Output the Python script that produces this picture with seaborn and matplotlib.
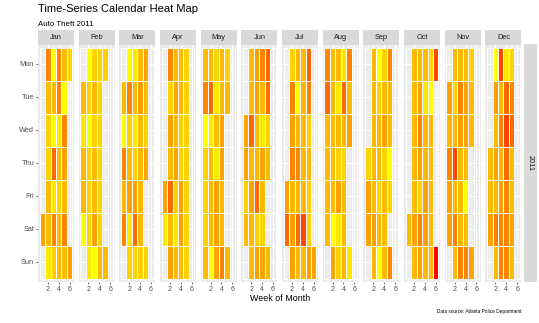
import numpy as np
import pandas as pd
import matplotlib
matplotlib.use("Agg")
import matplotlib.pyplot as plt
from matplotlib.colors import LinearSegmentedColormap
from matplotlib.patches import Rectangle
import seaborn as sns

# ---- data: daily auto theft counts, 2011 ----
year = 2011
month_names = ["Jan", "Feb", "Mar", "Apr", "May", "Jun",
               "Jul", "Aug", "Sep", "Oct", "Nov", "Dec"]
weekday_names = ["Mon", "Tue", "Wed", "Thu", "Fri", "Sat", "Sun"]
week_ticks = [2, 4, 6]

jan = [16, 10, 18, 14, 12, 12, 14, 14, 12, 8, 14, 8, 20, 10, 18, 14, 18, 18, 10, 14, 12, 14, 14, 14, 8, 18, 16, 14, 18, 16, 12]
feb = [14, 10, 14, 14, 8, 10, 8, 12, 8, 12, 12, 12, 8, 12, 14, 12, 14, 14, 16, 14, 12, 12, 12, 12, 12, 12, 14, 12]
mar = [14, 8, 18, 14, 18, 12, 8, 18, 12, 14, 16, 10, 12, 10, 14, 10, 12, 16, 20, 12, 14, 16, 14, 14, 14, 14, 12, 16, 14, 12, 16]
apr = [16, 10, 16, 18, 12, 16, 14, 20, 14, 14, 14, 16, 14, 16, 12, 10, 14, 14, 14, 12, 12, 16, 16, 12, 12, 12, 12, 12, 12, 12]
may = [14, 14, 18, 8, 12, 12, 12, 8, 14, 20, 10, 14, 14, 14, 16, 12, 10, 14, 10, 16, 16, 18, 14, 14, 16, 16, 14, 14, 14, 12, 14]
jun = [16, 16, 12, 14, 14, 14, 14, 20, 14, 16, 14, 16, 16, 16, 14, 14, 20, 12, 16, 18, 14, 10, 16, 14, 12, 14, 20, 20, 12, 14]
jul = [16, 20, 16, 12, 18, 16, 18, 14, 16, 14, 14, 8, 14, 18, 14, 20, 14, 14, 14, 14, 14, 14, 22, 16, 20, 18, 12, 14, 12, 12, 16]
aug = [18, 20, 14, 14, 14, 14, 16, 14, 14, 14, 14, 14, 8, 12, 14, 10, 14, 12, 16, 10, 14, 10, 20, 14, 12, 14, 14, 10, 18, 14, 16]
sep = [12, 16, 16, 14, 14, 14, 14, 14, 14, 16, 8, 8, 12, 14, 14, 12, 14, 14, 12, 14, 16, 12, 14, 14, 18, 18, 14, 14, 8, 12]
oct_ = [14, 14, 14, 14, 14, 14, 14, 16, 16, 14, 16, 18, 16, 12, 18, 14, 14, 10, 14, 14, 16, 16, 14, 12, 8, 14, 14, 14, 14, 24, 22]
nov = [16, 14, 18, 16, 16, 14, 14, 12, 14, 22, 14, 18, 18, 14, 18, 16, 14, 14, 14, 18, 14, 16, 16, 14, 8, 14, 16, 12, 14, 14]
dec = [14, 14, 16, 14, 8, 16, 14, 16, 14, 18, 18, 22, 14, 18, 14, 16, 18, 18, 10, 20, 22, 20, 18, 18, 14, 12, 18, 20, 14, 14, 16]

counts = jan + feb + mar + apr + may + jun + jul + aug + sep + oct_ + nov + dec

# ---- calendar layout ----
dates = pd.date_range(f"{year}-01-01", f"{year}-12-31", freq="D")
df = pd.DataFrame({"date": dates, "count": counts})
df["month"] = df["date"].dt.month
df["weekday"] = df["date"].dt.dayofweek
week_of_year = df["date"].dt.strftime("%U").astype(int)
df["monthweek"] = week_of_year - week_of_year.groupby(df["month"]).transform("min") + 1

vmin, vmax = df["count"].min(), df["count"].max()
cmap = LinearSegmentedColormap.from_list(
    "yellow_red",
    [(0.0, "#FFFF00"), (0.25, "#FFD100"), (0.5, "#FFA100"),
     (0.75, "#FF6B00"), (0.875, "#FF4900"), (1.0, "#FF0000")])

# ---- figure ----
sns.set_style("white")
plt.rcParams["font.family"] = ["Liberation Sans", "DejaVu Sans"]

W, H = 539, 323
fig = plt.figure(figsize=(W / 100, H / 100), dpi=100)

def fx(px):
    return px / W

def fy(py):
    return 1 - py / H

panel_left, panel_w, panel_step = 38.0, 36.0, 40.68
panel_top, panel_bot = 44.5, 282.0
strip_top = 30.0

tick_col = "#333333"
text_col = "#4D4D4D"

for m in range(12):
    left = panel_left + m * panel_step
    ax = fig.add_axes([fx(left), fy(panel_bot), panel_w / W, (panel_bot - panel_top) / H])
    ax.set_facecolor("#EBEBEB")

    sub = df[df["month"] == m + 1]
    mat = (sub.pivot(index="weekday", columns="monthweek", values="count")
              .reindex(index=range(7), columns=range(1, 7)))

    sns.heatmap(mat, ax=ax, cmap=cmap, vmin=vmin, vmax=vmax, cbar=False,
                linewidths=0.4, linecolor="white")
    ax.collections[0].set_zorder(3)

    # background grid beneath the tiles
    for v in [0.5, 2.5, 4.5]:
        ax.axvline(v, color="white", lw=0.35, zorder=0.5)
    for v in [1.5, 3.5, 5.5]:
        ax.axvline(v, color="white", lw=0.7, zorder=0.5)
    for v in np.arange(7) + 0.5:
        ax.axhline(v, color="white", lw=0.7, zorder=0.5)

    ax.set_xlim(-0.3, 6.3)
    ax.set_ylim(7.1, -0.1)
    ax.set_xlabel("")
    ax.set_ylabel("")
    ax.set_xticks([t - 0.5 for t in week_ticks])
    ax.set_xticklabels([str(t) for t in week_ticks], rotation=0)
    if m == 0:
        ax.set_yticks(np.arange(7) + 0.5)
        ax.set_yticklabels(weekday_names, rotation=0)
        ax.tick_params(axis="y", length=1.6, width=0.5, color=tick_col,
                       labelsize=5.3, labelcolor=text_col, pad=1.2, left=True)
    else:
        ax.set_yticks([])
    ax.tick_params(axis="x", length=1.6, width=0.5, color=tick_col,
                   labelsize=5.0, labelcolor=text_col, pad=1.0, bottom=True)
    for s in ax.spines.values():
        s.set_visible(False)

    # month strip
    fig.add_artist(Rectangle((fx(left), fy(panel_top)), panel_w / W,
                             (panel_top - strip_top) / H, transform=fig.transFigure,
                             facecolor="#D9D9D9", edgecolor="none"))
    fig.text(fx(left + panel_w / 2), fy((panel_top + strip_top) / 2), month_names[m],
             ha="center", va="center", fontsize=5.3, color="#1A1A1A")

# year strip on the right
fig.add_artist(Rectangle((fx(523.5), fy(panel_bot)), 13.5 / W, (panel_bot - panel_top) / H,
                         transform=fig.transFigure, facecolor="#D9D9D9", edgecolor="none"))
fig.text(fx(530.2), fy((panel_top + panel_bot) / 2), str(year), rotation=-90,
         ha="center", va="center", fontsize=5.3, color="#1A1A1A")

# titles and captions
fig.text(fx(38), fy(12.3), "Time-Series Calendar Heat Map", fontsize=8,
         ha="left", va="baseline", color="black")
fig.text(fx(38), fy(26), f"Auto Theft {year}", fontsize=5.7,
         ha="left", va="baseline", color="black")
fig.text(fx(279.75), fy(301), "Week of Month", fontsize=6.4,
         ha="center", va="baseline", color="black")
fig.text(fx(521.5), fy(313), "Data source: Atlanta Police Department", fontsize=3.4,
         ha="right", va="baseline", color="black")

fig.savefig("out.png", dpi=100, facecolor="white")
